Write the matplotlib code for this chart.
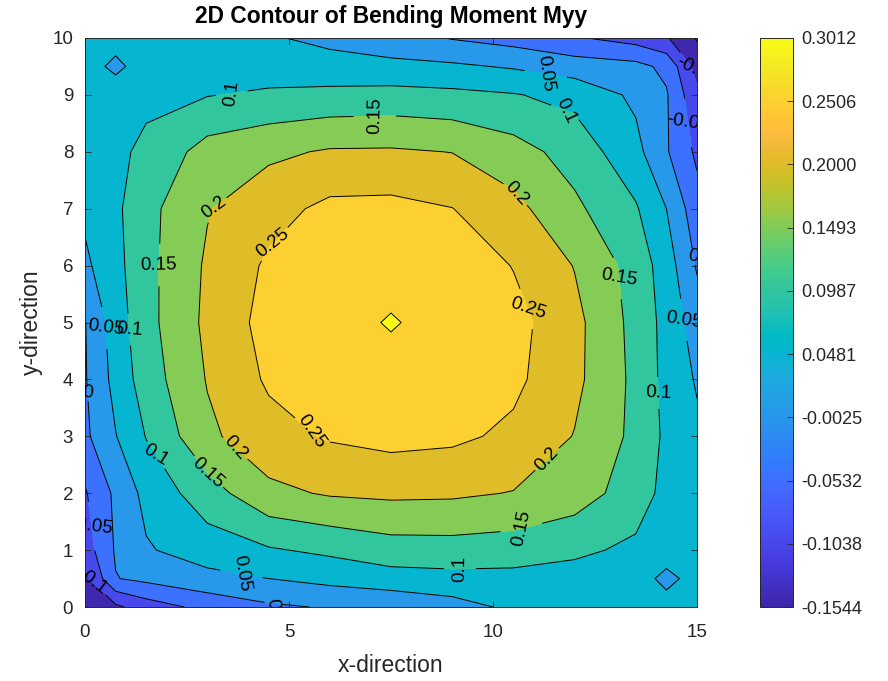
import numpy as np
import matplotlib
matplotlib.use("Agg")
import matplotlib.pyplot as plt
from matplotlib.colors import LinearSegmentedColormap, Normalize
import matplotlib.cm as cm

# ---------------- data ----------------
x_grid = [0, 0.75, 1.5, 3, 4.5, 6, 7.5, 9, 10.5, 12, 13.5, 14.25, 15]
y_grid = [0, 0.5, 1, 2, 3, 4, 5, 6, 7, 8, 9, 9.5, 10]

myy_y0_0 = [-0.150, -0.110, -0.075, -0.035, -0.008, 0.004, 0.008, 0.030, 0.060, 0.072, 0.075, 0.072, 0.070]
myy_y0_5 = [-0.115, -0.002, 0.012, 0.035, 0.050, 0.065, 0.080, 0.085, 0.085, 0.080, 0.075, 0.035, 0.070]
myy_y1_0 = [-0.075, 0.005, 0.045, 0.075, 0.095, 0.110, 0.128, 0.130, 0.125, 0.110, 0.090, 0.078, 0.070]
myy_y2_0 = [-0.055, 0.010, 0.065, 0.128, 0.188, 0.205, 0.210, 0.208, 0.198, 0.175, 0.125, 0.085, 0.070]
myy_y3_0 = [-0.010, 0.048, 0.102, 0.190, 0.232, 0.255, 0.266, 0.260, 0.240, 0.198, 0.138, 0.090, 0.060]
myy_y4_0 = [-0.004, 0.066, 0.125, 0.203, 0.257, 0.285, 0.294, 0.285, 0.261, 0.212, 0.138, 0.085, 0.045]
myy_y5_0 = [-0.002, 0.075, 0.134, 0.211, 0.268, 0.294, 0.3012, 0.294, 0.267, 0.214, 0.134, 0.084, 0.025]
myy_y6_0 = [0.040, 0.085, 0.135, 0.207, 0.258, 0.285, 0.294, 0.283, 0.248, 0.198, 0.130, 0.075, -0.005]
myy_y7_0 = [0.060, 0.090, 0.135, 0.197, 0.232, 0.262, 0.264, 0.251, 0.215, 0.160, 0.105, 0.050, -0.030]
myy_y8_0 = [0.075, 0.090, 0.110, 0.170, 0.190, 0.205, 0.206, 0.199, 0.170, 0.130, 0.065, 0.005, -0.060]
myy_y9_0 = [0.080, 0.085, 0.090, 0.098, 0.108, 0.115, 0.118, 0.112, 0.103, 0.085, 0.040, 0.005, -0.090]
myy_y9_5 = [0.078, 0.035, 0.080, 0.085, 0.075, 0.065, 0.062, 0.058, 0.045, 0.025, 0.015, -0.012, -0.120]
myy_y10_0 = [0.070, 0.075, 0.075, 0.070, 0.054, 0.040, 0.022, -0.003, -0.020, -0.045, -0.070, -0.095, -0.1544]

contour_levels = [-0.15, -0.1, -0.05, 0.0, 0.05, 0.1, 0.15, 0.2, 0.25, 0.3]
colorbar_ticks = [-0.1544, -0.1038, -0.0532, -0.0025, 0.0481, 0.0987, 0.1493, 0.2000, 0.2506, 0.3012]

# label positions (x, y) in data units
label_positions = [
    (3.6, 9.0), (7.1, 8.7), (11.3, 9.4), (11.76, 8.65), (14.75, 9.45), (14.7, 8.5),
    (14.88, 6.15), (3.1, 7.07), (10.66, 7.33), (4.53, 6.45), (1.79, 6.01),
    (13.04, 5.78), (10.78, 5.22), (0.37, 4.9), (0.98, 4.87), (14.6, 5.04),
    (0.05, 3.76), (13.97, 3.76), (5.44, 2.99), (3.8, 2.88), (11.35, 2.58),
    (1.54, 2.58), (2.94, 2.32), (0.37, 1.44), (10.71, 1.35), (0.25, 0.51),
    (9.19, 0.74), (3.8, 0.45), (4.6, 0.05),
]

# ---------------- parula colormap ----------------
parula_data = [
    [0.2422, 0.1504, 0.6603], [0.2504, 0.1650, 0.7076], [0.2578, 0.1818, 0.7511],
    [0.2647, 0.1978, 0.7952], [0.2706, 0.2147, 0.8364], [0.2751, 0.2342, 0.8710],
    [0.2783, 0.2559, 0.8991], [0.2803, 0.2782, 0.9221], [0.2813, 0.3006, 0.9414],
    [0.2810, 0.3228, 0.9579], [0.2795, 0.3447, 0.9717], [0.2760, 0.3667, 0.9829],
    [0.2699, 0.3892, 0.9906], [0.2602, 0.4123, 0.9952], [0.2440, 0.4358, 0.9988],
    [0.2206, 0.4603, 0.9973], [0.1963, 0.4847, 0.9892], [0.1834, 0.5074, 0.9798],
    [0.1786, 0.5289, 0.9682], [0.1764, 0.5499, 0.9520], [0.1687, 0.5703, 0.9359],
    [0.1540, 0.5902, 0.9218], [0.1460, 0.6091, 0.9079], [0.1380, 0.6276, 0.8973],
    [0.1248, 0.6459, 0.8883], [0.1113, 0.6635, 0.8763], [0.0952, 0.6798, 0.8598],
    [0.0689, 0.6948, 0.8394], [0.0297, 0.7082, 0.8163], [0.0036, 0.7203, 0.7917],
    [0.0067, 0.7312, 0.7660], [0.0433, 0.7411, 0.7394], [0.0964, 0.7500, 0.7120],
    [0.1408, 0.7584, 0.6842], [0.1717, 0.7670, 0.6554], [0.1938, 0.7758, 0.6251],
    [0.2161, 0.7843, 0.5923], [0.2470, 0.7918, 0.5567], [0.2906, 0.7973, 0.5188],
    [0.3406, 0.8008, 0.4789], [0.3909, 0.8029, 0.4354], [0.4456, 0.8024, 0.3909],
    [0.5044, 0.7993, 0.3480], [0.5616, 0.7942, 0.3045], [0.6174, 0.7876, 0.2612],
    [0.6720, 0.7793, 0.2227], [0.7242, 0.7698, 0.1910], [0.7738, 0.7598, 0.1646],
    [0.8203, 0.7498, 0.1535], [0.8634, 0.7406, 0.1596], [0.9035, 0.7330, 0.1774],
    [0.9393, 0.7288, 0.2100], [0.9728, 0.7298, 0.2394], [0.9956, 0.7434, 0.2371],
    [0.9970, 0.7659, 0.2199], [0.9952, 0.7893, 0.2028], [0.9892, 0.8136, 0.1885],
    [0.9786, 0.8386, 0.1766], [0.9676, 0.8639, 0.1643], [0.9610, 0.8890, 0.1537],
    [0.9597, 0.9135, 0.1423], [0.9628, 0.9373, 0.1265], [0.9691, 0.9606, 0.1064],
    [0.9769, 0.9839, 0.0805],
]
parula = LinearSegmentedColormap.from_list("parula", parula_data, N=256)

# ---------------- figure ----------------
plt.rcParams['font.family'] = ['Liberation Sans', 'DejaVu Sans']
text_color = '#262626'

Z = np.array([myy_y0_0, myy_y0_5, myy_y1_0, myy_y2_0, myy_y3_0, myy_y4_0, myy_y5_0,
              myy_y6_0, myy_y7_0, myy_y8_0, myy_y9_0, myy_y9_5, myy_y10_0])
X, Y = np.meshgrid(np.array(x_grid), np.array(y_grid))

zmin, zmax = float(Z.min()), float(Z.max())
norm = Normalize(vmin=zmin, vmax=zmax)
bounds = [zmin] + contour_levels + [zmax]
fill_colors = [parula(norm(b)) for b in bounds[:-1]]

fig = plt.figure(figsize=(8.88, 6.81), dpi=100)
ax = fig.add_axes([85 / 888, 74 / 681, 612 / 888, 569 / 681])

ax.contourf(X, Y, Z, levels=bounds, colors=fill_colors)
cs = ax.contour(X, Y, Z, levels=contour_levels, colors='k', linewidths=0.7,
                negative_linestyles='solid')


def fmt(v):
    v = round(float(v), 4)
    if v == 0:
        return "0"
    return f"{v:g}"


texts = ax.clabel(cs, fmt=fmt, fontsize=13.5, inline=True, inline_spacing=3,
                  manual=label_positions, colors='k')


def _norm_angle(a):
    a = (a + 90.0) % 180.0 - 90.0
    if a <= -90.0:
        a += 180.0
    return a


# the reference draws its labels mirrored about the diagonal (angle -> 90 - angle)
for t in texts:
    theta = _norm_angle(t.get_rotation())
    t.set_rotation(_norm_angle(90.0 - theta))

ax.set_xlim(0, 15)
ax.set_ylim(0, 10)
ax.set_xticks([0, 5, 10, 15])
ax.set_yticks(range(0, 11))
ax.tick_params(direction='in', top=True, right=True, length=4, width=0.6,
               labelsize=13.5, colors=text_color)
ax.tick_params(axis='x', pad=12)
ax.tick_params(axis='y', pad=8.5)
for sp in ax.spines.values():
    sp.set_color(text_color)
    sp.set_linewidth(0.7)

ax.set_xlabel('x-direction', fontsize=16.5, color=text_color, labelpad=9.5)
ax.set_ylabel('y-direction', fontsize=16.5, color=text_color, labelpad=7)
ax.set_title('2D Contour of Bending Moment Myy', fontsize=16.4, fontweight='bold',
             color='black', pad=10.5)

cax = fig.add_axes([760 / 888, 74 / 681, 33 / 888, 569 / 681])
sm = cm.ScalarMappable(norm=norm, cmap=parula)
cb = fig.colorbar(sm, cax=cax, ticks=colorbar_ticks)
cb.ax.set_yticklabels([f"{t:.4f}" for t in colorbar_ticks])
cb.ax.tick_params(direction='in', length=4, width=0.6, labelsize=13,
                  colors=text_color, pad=6)
cb.outline.set_edgecolor(text_color)
cb.outline.set_linewidth(0.7)

fig.savefig('out.png', dpi=100)
